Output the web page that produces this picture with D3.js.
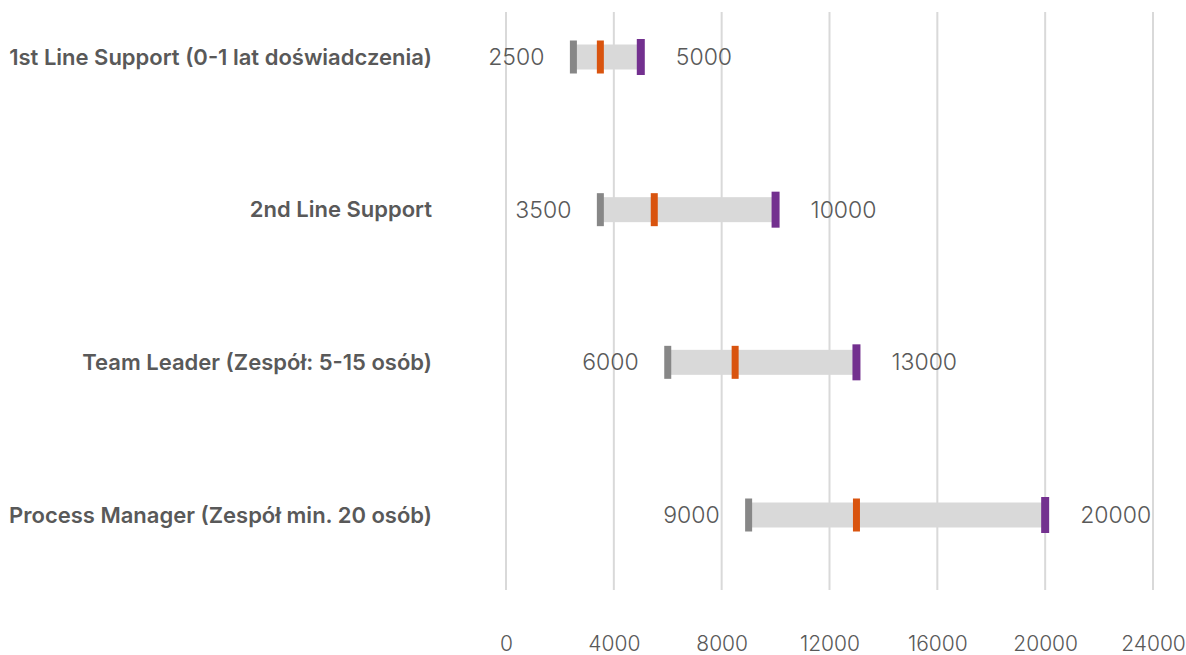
<!DOCTYPE html>
<html>
<head>
<meta charset="utf-8">
<script src="https://cdn.jsdelivr.net/npm/d3@7"></script>
<style>
  body { margin: 0; background: #fff; }
  svg { display: block; }
</style>
</head>
<body>
<div id="chart"></div>
<script>
// dane
const categories = [
  "1st Line Support (0-1 lat doświadczenia)",
  "2nd Line Support",
  "Team Leader (Zespół: 5-15 osób)",
  "Process Manager (Zespół min. 20 osób)"
];
const minValues = [2500, 3500, 6000, 9000];
const midValues = [3500, 5500, 8500, 13000];
const maxValues = [5000, 10000, 13000, 20000];
const xTicks = [0, 4000, 8000, 12000, 16000, 20000, 24000];

const rows = categories.map((c, i) => ({
  cat: c, min: minValues[i], mid: midValues[i], max: maxValues[i]
}));

const W = 1186, H = 655;
const svg = d3.select("#chart").append("svg")
  .attr("width", W).attr("height", H);

// skale
const x = d3.scaleLinear().domain([0, 24000]).range([506, 1153]);
const y = d3.scalePoint().domain(categories).range([57, 515]);

const textColor = "#595959";
const font = "Inter, Lato, sans-serif";

// linie siatki
svg.append("g")
  .selectAll("line")
  .data(xTicks)
  .join("line")
  .attr("x1", d => x(d)).attr("x2", d => x(d))
  .attr("y1", 12).attr("y2", 590)
  .attr("stroke", "#d9d9d9")
  .attr("stroke-width", 2);

// oś X
const axis = svg.append("g")
  .attr("transform", "translate(0,644)")
  .call(d3.axisBottom(x).tickValues(xTicks).tickSize(0).tickPadding(0).tickFormat(d3.format("d")));
axis.select(".domain").remove();
axis.selectAll("text")
  .attr("y", 0).attr("dy", "0.35em")
  .style("font-family", font).style("font-weight", 300)
  .style("font-size", "21px").attr("fill", textColor);

// etykiety kategorii
svg.append("g")
  .selectAll("text")
  .data(rows)
  .join("text")
  .attr("x", 432)
  .attr("y", d => y(d.cat))
  .attr("dy", "0.35em")
  .attr("text-anchor", "end")
  .style("font-family", font).style("font-weight", 600)
  .style("font-size", "22px")
  .attr("fill", textColor)
  .text(d => d.cat);

// pasek zakresu
svg.append("g")
  .selectAll("rect")
  .data(rows)
  .join("rect")
  .attr("x", d => x(d.min))
  .attr("width", d => x(d.max) - x(d.min))
  .attr("y", d => y(d.cat) - 12.5)
  .attr("height", 25)
  .attr("fill", "#d9d9d9");

// znaczniki
const markers = [
  { key: "min", color: "#878787", w: 7, h: 33 },
  { key: "mid", color: "#d9540f", w: 7, h: 33 },
  { key: "max", color: "#73308f", w: 8, h: 36 }
];
markers.forEach(m => {
  svg.append("g")
    .selectAll("rect")
    .data(rows)
    .join("rect")
    .attr("x", d => x(d[m.key]) - m.w / 2)
    .attr("width", m.w)
    .attr("y", d => y(d.cat) - m.h / 2)
    .attr("height", m.h)
    .attr("fill", m.color);
});

// wartości min / max
svg.append("g")
  .selectAll("text")
  .data(rows)
  .join("text")
  .attr("x", d => x(d.min) - 29)
  .attr("y", d => y(d.cat))
  .attr("dy", "0.35em")
  .attr("text-anchor", "end")
  .style("font-family", font).style("font-weight", 300)
  .style("font-size", "23px")
  .attr("fill", textColor)
  .text(d => d.min);

svg.append("g")
  .selectAll("text")
  .data(rows)
  .join("text")
  .attr("x", d => x(d.max) + 35)
  .attr("y", d => y(d.cat))
  .attr("dy", "0.35em")
  .attr("text-anchor", "start")
  .style("font-family", font).style("font-weight", 300)
  .style("font-size", "23px")
  .attr("fill", textColor)
  .text(d => d.max);
</script>
</body>
</html>
